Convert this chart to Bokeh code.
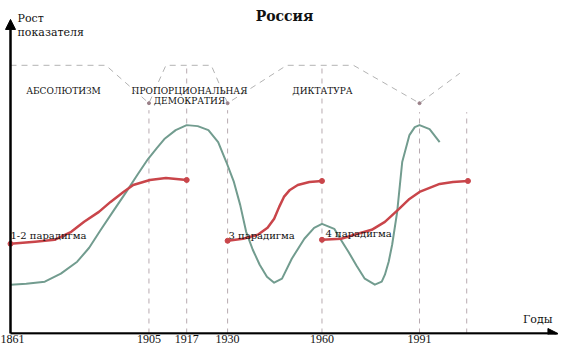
from bokeh.plotting import figure
from bokeh.models import Label, Arrow, NormalHead, FixedTicker, Range1d
from bokeh.embed import file_html
from bokeh.resources import INLINE

# ---------------- data ----------------
tick_years = [1861, 1905, 1917, 1930, 1960, 1991]

# economic indicator (green wave)
green_years = [1861, 1866, 1871.9, 1877, 1882.2, 1886, 1889.7, 1893.5, 1897.8, 1901.5, 1904.7,
               1907.5, 1909.9, 1913.5, 1917, 1920.5, 1923.9, 1927, 1929.6, 1932, 1934.0, 1935.9,
               1938, 1940.2, 1942.5, 1944.8, 1947.3, 1950.4, 1954.4, 1957.5, 1960,
               1963.9, 1966, 1968.4, 1971, 1973.6, 1976.8, 1979, 1980.0, 1981.2, 1982.3,
               1983.9, 1985.5, 1987.8, 1989.5, 1991, 1994.2, 1997.4]
green_vals = [49, 50, 52, 60, 72, 86, 104, 122, 142, 160, 175,
              186, 195, 204, 209, 208, 204, 192, 172, 152, 129, 102,
              84, 69, 57, 51, 55, 75, 95, 106, 110,
              105, 94, 82, 68, 55, 49, 52, 59, 72, 89,
              122, 172, 199, 207, 209, 205, 192]

# paradigm curves (red)
red1_years = [1861, 1868.8, 1875.0, 1880.3, 1884.4, 1889.1, 1892.8, 1896.9, 1900.0, 1905.3, 1910.4, 1917]
red1_vals = [90, 92, 94, 102, 112, 122, 132, 142, 149, 154, 156, 154]
red2_years = [1930, 1934.9, 1939.6, 1942.7, 1944.8, 1946.4, 1947.9, 1949.8, 1952.3, 1956.0, 1960]
red2_vals = [93, 95, 99, 106, 115, 127, 137, 144, 149, 152, 153]
red3_years = [1960, 1966.1, 1970.3, 1975.8, 1980.0, 1984.5, 1987.8, 1991, 1997.4, 2001.6, 2006.4]
red3_vals = [94, 95, 99, 104, 112, 125, 135, 142, 150, 152, 153]

# regime boundary line (dashed)
regime_years = [1861, 1891.3, 1905, 1910.4, 1924.8, 1930, 1948.8, 1970.0, 1991, 2003.8]
regime_vals = [269, 269, 231, 269, 269, 231, 269, 269, 231, 261]
turn_years = [1905, 1930, 1991]
turn_vals = [231, 231, 231]

# vertical dashed period lines
vline_years = [1905, 1917, 1930, 1960, 1991, 2006]
vline_tops = [224, 269, 224, 269, 222, 222]

regimes = ["АБСОЛЮТИЗМ", "ПРОПОРЦИОНАЛЬНАЯ", "ДЕМОКРАТИЯ", "ДИКТАТУРА"]
paradigms = ["1-2 парадигма", "3 парадигма", "4 парадигма"]

# ---------------- figure ----------------
SERIF = "DejaVu Serif"
TICKFONT = "Liberation Serif"
GREEN = "#729c8f"
RED = "#c9454a"
VGREY = "#b8aab0"
HGREY = "#b3b3b3"

p = figure(width=560, height=345, output_backend="svg", toolbar_location=None,
           x_range=Range1d(1857.82, 2035.81), y_range=Range1d(-1, 334),
           y_axis_location=None, min_border_left=0, min_border_right=0,
           min_border_top=0, min_border_bottom=0)
p.outline_line_color = None
p.xgrid.visible = False
p.ygrid.visible = False
p.background_fill_color = "white"

ax = p.xaxis[0]
ax.ticker = FixedTicker(ticks=tick_years)
ax.axis_line_color = None
ax.major_tick_line_color = None
ax.minor_tick_line_color = None
ax.major_tick_out = 0
ax.major_tick_in = 0
ax.minor_tick_out = 0
ax.axis_label_standoff = 0
ax.major_label_standoff = 0
ax.major_label_text_font = TICKFONT
ax.major_label_text_font_size = "12px"
ax.major_label_text_color = "#111111"

# vertical dashed lines
p.segment(x0=vline_years, y0=[0] * len(vline_years), x1=vline_years, y1=vline_tops,
          line_color=VGREY, line_width=1, line_dash="5 5")
# regime boundary
p.line(regime_years, regime_vals, line_color=HGREY, line_width=1, line_dash="6 5")
p.scatter(turn_years, turn_vals, size=3, color="#9a8088")

# curves
p.line(green_years, green_vals, line_color=GREEN, line_width=2, line_join="round")
for xs, ys in [(red1_years, red1_vals), (red2_years, red2_vals), (red3_years, red3_vals)]:
    p.line(xs, ys, line_color=RED, line_width=2.5, line_join="round", line_cap="round")
    p.scatter([xs[0], xs[-1]], [ys[0], ys[-1]], size=5, color=RED)

# axes arrows
p.add_layout(Arrow(x_start=1861, y_start=0, x_end=1861, y_end=315, line_width=2.5,
                   line_color="black",
                   end=NormalHead(size=10, fill_color="black", line_color="black")))
p.add_layout(Arrow(x_start=1861, y_start=0, x_end=2035, y_end=0, line_width=2.5,
                   line_color="black",
                   end=NormalHead(size=10, fill_color="black", line_color="black")))

FRAME_BOTTOM = 335  # page y of frame bottom
def lab(px, py, t, size, align="left", style="normal", baseline="middle"):
    py = 0.976 * py + 0.2
    p.add_layout(Label(x=px - 8, y=FRAME_BOTTOM - py, x_units="screen", y_units="screen",
                       text=t, text_font=SERIF, text_font_size=size, text_align=align,
                       text_baseline=baseline, text_font_style=style,
                       text_color="#111111"))

lab(292, 9, "Россия", "14px", "center", "bold", "top")
lab(25, 19, "Рост", "11px")
lab(25, 34, "показателя", "11px")
lab(560, 328, "Годы", "11px", "right")
lab(71, 94, regimes[0], "9px", "center")
lab(197, 94, regimes[1], "9px", "center")
lab(197, 104, regimes[2], "9px", "center")
lab(330, 94, regimes[3], "9px", "center")
lab(18, 242, paradigms[0], "10px")
lab(236, 242, paradigms[1], "10px")
lab(333, 240, paradigms[2], "10px")

open("out.html", "w").write(file_html(p, INLINE))
